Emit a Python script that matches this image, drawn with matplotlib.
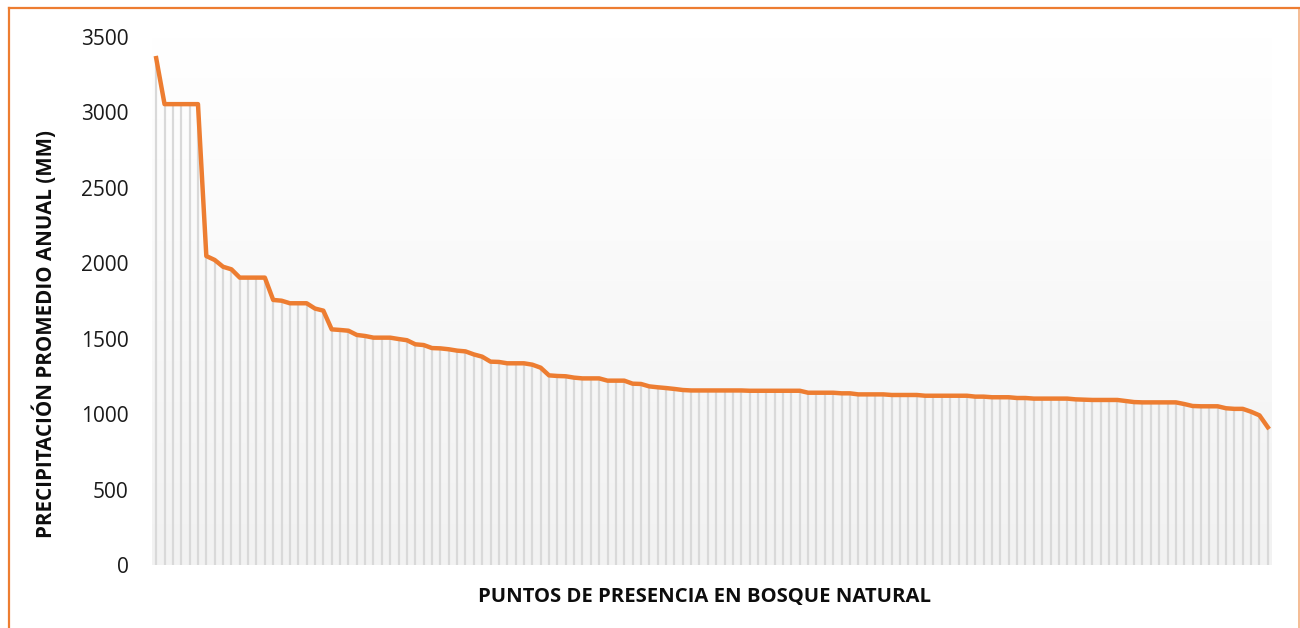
import numpy as np
import matplotlib.pyplot as plt
from matplotlib.colors import LinearSegmentedColormap
from matplotlib.lines import Line2D

OUT = "out.png"
ORANGE = "#ED7D31"

# precipitation values (mm), sorted, one per presence point
precip = [
    3360, 3055, 3055, 3055, 3055, 3055, 2048, 2022, 1977, 1960,
    1905, 1905, 1905, 1905, 1757, 1752, 1735, 1735, 1735, 1700,
    1686, 1562, 1558, 1553, 1525, 1518, 1507, 1507, 1507, 1498,
    1490, 1463, 1458, 1438, 1436, 1430, 1421, 1416, 1396, 1381,
    1348, 1346, 1337, 1337, 1337, 1328, 1308, 1257, 1253, 1251,
    1242, 1237, 1237, 1237, 1222, 1222, 1222, 1202, 1200, 1184,
    1178, 1173, 1167, 1160, 1157, 1157, 1157, 1157, 1157, 1157,
    1157, 1155, 1155, 1155, 1155, 1155, 1155, 1155, 1142, 1142,
    1142, 1142, 1138, 1138, 1131, 1131, 1131, 1131, 1127, 1127,
    1127, 1127, 1122, 1122, 1122, 1122, 1122, 1122, 1116, 1116,
    1112, 1112, 1112, 1107, 1107, 1103, 1103, 1103, 1103, 1103,
    1098, 1096, 1094, 1094, 1094, 1094, 1087, 1080, 1078, 1078,
    1078, 1078, 1078, 1067, 1054, 1052, 1052, 1052, 1039, 1035,
    1035, 1016, 992, 913,
]
yticks = [0, 500, 1000, 1500, 2000, 2500, 3000, 3500]

W, H = 1300, 628
plt.rcParams["font.family"] = ["Open Sans", "DejaVu Sans"]

fig = plt.figure(figsize=(W / 100, H / 100), dpi=100, facecolor="white")
ax = fig.add_axes([152 / W, 1 - 565 / H, 1120 / W, 528 / H])

x = np.arange(len(precip))
ax.set_xlim(-0.5, len(precip) - 0.5)
ax.set_ylim(0, 3500)

# gradient background: white at top to light grey at bottom
bg = LinearSegmentedColormap.from_list("bg", ["#f2f2f2", "#ffffff"])
grad = np.linspace(1.0, 0.0, 256).reshape(-1, 1)
ax.imshow(grad, cmap=bg, aspect="auto", extent=(-0.5, len(precip) - 0.5, 0, 3500),
          origin="upper", zorder=0, vmin=0, vmax=1)

# drop lines + main line
ax.vlines(x, 0, precip, colors="#d9d9d9", linewidth=1.6, zorder=1)
ax.plot(x, precip, color=ORANGE, linewidth=3.2, solid_joinstyle="round", zorder=2)

ax.set_yticks(yticks)
ax.set_yticklabels([str(v) for v in yticks], fontsize=15, color="#1a1a1a")
ax.set_xticks([])
ax.tick_params(axis="y", length=0, pad=17)
for s in ax.spines.values():
    s.set_visible(False)

fig.text(705 / W, 1 - 597 / H, "PUNTOS DE PRESENCIA EN BOSQUE NATURAL", fontsize=14.6,
         fontweight="bold", ha="center", va="center", color="#0d0d0d")
fig.text(45 / W, 1 - 334 / H, "PRECIPITACIÓN PROMEDIO ANUAL (MM)", fontsize=14.8,
         fontweight="bold", ha="center", va="center", rotation=90, color="#0d0d0d")

# outer orange frame (left, top, right)
fx0, fy0, fx1 = 9 / W, 1 - 8 / H, 1299 / W
fig.add_artist(Line2D([fx0, fx0], [0, fy0], transform=fig.transFigure, color=ORANGE, lw=1.6))
fig.add_artist(Line2D([fx0, fx1], [fy0, fy0], transform=fig.transFigure, color=ORANGE, lw=1.6))
fig.add_artist(Line2D([fx1, fx1], [0, fy0], transform=fig.transFigure, color=ORANGE, lw=1.2, alpha=0.6))

fig.savefig(OUT, dpi=100, facecolor="white")
